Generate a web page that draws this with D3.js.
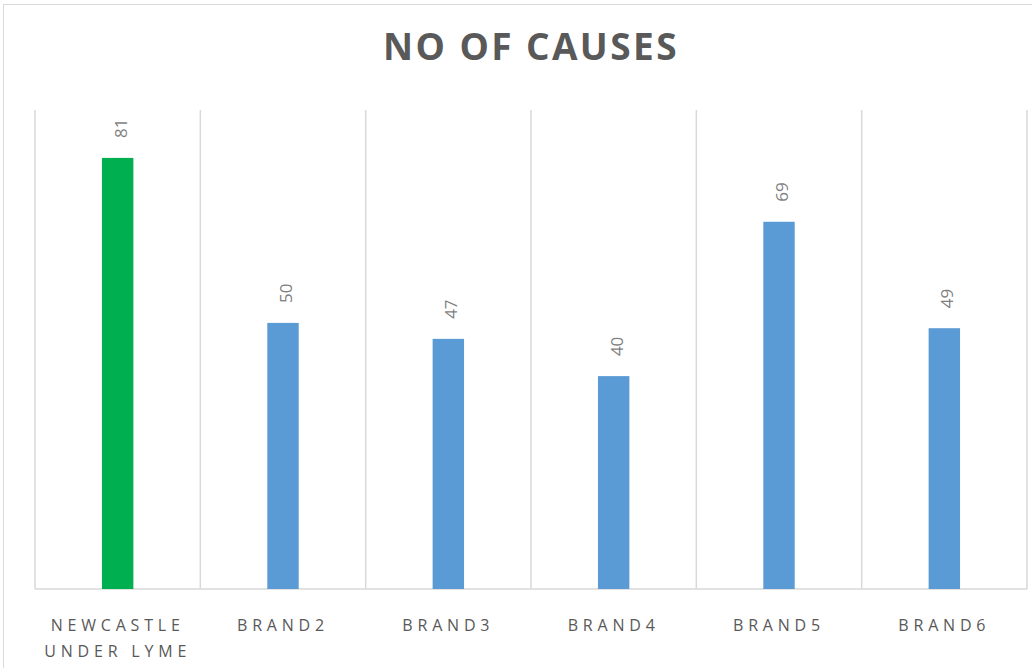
<!DOCTYPE html>
<html>
<head>
<meta charset="utf-8">
<script src="https://cdn.jsdelivr.net/npm/d3@7"></script>
<style>
  body { margin: 0; background: #fff; }
  text { font-family: "Open Sans", sans-serif; }
</style>
</head>
<body>
<svg id="chart" width="1032" height="668"></svg>
<script>
var title = "NO OF CAUSES";
var categories = ["NEWCASTLE UNDER LYME", "BRAND2", "BRAND3", "BRAND4", "BRAND5", "BRAND6"];
var labelLines = [["NEWCASTLE", "UNDER LYME"], ["BRAND2"], ["BRAND3"], ["BRAND4"], ["BRAND5"], ["BRAND6"]];
var values = [81, 50, 47, 40, 69, 49];
var barColors = ["#00b050", "#5b9bd5", "#5b9bd5", "#5b9bd5", "#5b9bd5", "#5b9bd5"];

(function() {
  var svg = d3.select('#chart');
  var plotLeft = 35, plotRight = 1027, plotTop = 110, plotBottom = 589;

  // chart frame
  svg.append('rect')
    .attr('x', 3.5).attr('y', 4.5)
    .attr('width', 1040).attr('height', 680)
    .attr('fill', 'none').attr('stroke', '#d9d9d9');

  svg.append('text')
    .attr('x', 531).attr('y', 60)
    .attr('text-anchor', 'middle')
    .style('font-size', '37px')
    .style('font-weight', 'bold')
    .style('letter-spacing', '2.4px')
    .attr('fill', '#595959')
    .text(title);

  var x = d3.scaleBand().domain(categories).range([plotLeft, plotRight]).padding(0);
  var y = d3.scaleLinear().domain([0, 90]).range([plotBottom, plotTop]);

  // vertical gridlines at band edges
  var edges = categories.map(function(c) { return x(c); }).concat([plotRight]);
  svg.selectAll('line.grid').data(edges).enter().append('line')
    .attr('class', 'grid')
    .attr('x1', function(d) { return d; }).attr('x2', function(d) { return d; })
    .attr('y1', plotTop).attr('y2', plotBottom)
    .attr('stroke', '#d9d9d9').attr('stroke-width', 1.5);

  svg.append('line')
    .attr('x1', plotLeft).attr('x2', plotRight)
    .attr('y1', plotBottom).attr('y2', plotBottom)
    .attr('stroke', '#d9d9d9').attr('stroke-width', 1.5);

  var barW = x.bandwidth() * 0.19;
  svg.selectAll('rect.bar').data(values).enter().append('rect')
    .attr('class', 'bar')
    .attr('x', function(d, i) { return x(categories[i]) + x.bandwidth() / 2 - barW / 2; })
    .attr('y', function(d) { return y(d); })
    .attr('width', barW)
    .attr('height', function(d) { return plotBottom - y(d); })
    .attr('fill', function(d, i) { return barColors[i]; });

  // rotated value labels
  svg.selectAll('text.val').data(values).enter().append('text')
    .attr('class', 'val')
    .attr('transform', function(d, i) {
      var cx = x(categories[i]) + x.bandwidth() / 2 + 9;
      return 'translate(' + cx + ',' + (y(d) - 20) + ') rotate(-90)';
    })
    .attr('text-anchor', 'start')
    .style('font-size', '17px')
    .attr('fill', '#7f7f7f')
    .text(function(d) { return d; });

  // category labels
  var cat = svg.selectAll('text.cat').data(labelLines).enter().append('text')
    .attr('class', 'cat')
    .attr('text-anchor', 'middle')
    .style('font-size', '16px')
    .style('letter-spacing', '4.8px')
    .attr('fill', '#595959');
  cat.selectAll('tspan').data(function(d, i) { return d.map(function(t) { return {t: t, i: i}; }); })
    .enter().append('tspan')
    .attr('x', function(d) { return x(categories[d.i]) + x.bandwidth() / 2; })
    .attr('y', function(d, j) { return 631 + j * 26; })
    .text(function(d) { return d.t; });
})();
</script>
</body>
</html>
